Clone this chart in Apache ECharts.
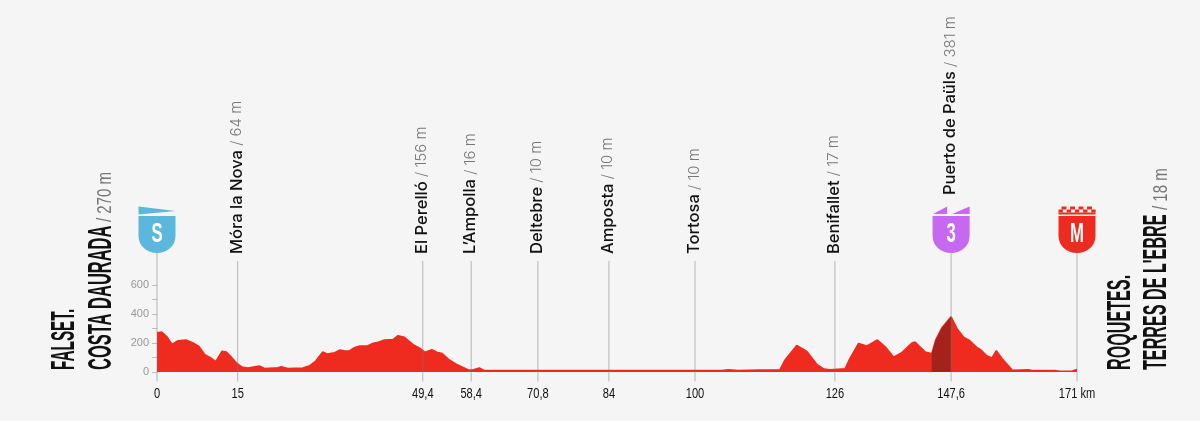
<!DOCTYPE html>
<html><head><meta charset="utf-8">
<style>html,body{margin:0;padding:0;background:#f5f5f5}#c{width:1200px;height:421px}</style>
<script src="https://cdn.jsdelivr.net/npm/echarts@6/dist/echarts.min.js"></script>
</head><body><div id="c"></div>
<script>
const profileKm = [0,0.9,1.9,2.8,3.9,5.4,6.7,7.8,8.9,10,10.9,12.1,12.9,13.8,14.9,15.9,16.9,19,20,22.5,23.1,24.3,27.1,28.4,29.5,30.8,31.6,33,34,34.9,35.8,36.8,37.7,39.1,40.2,41.1,42.3,43.9,44.8,46,47.6,48.9,49.8,51.1,52,53,54.2,55.7,57.3,57.9,58.8,59.9,60.8,70.8,84,100,105,106.2,108,112,115.8,116.7,118.9,120.8,122.7,124,125.1,127.9,128.8,130.4,131.9,133.9,135.5,136.9,138.4,140.3,140.9,142.8,144,144.7,145.9,147.6,148.7,149.9,151,152.3,153.2,154.3,155.2,156,157.1,159,162,162.6,166.9,167.8,170,171];
const profileElev = [270,276,241,191,216,221,200,177,120,97,71,143,138,104,57,32,28,41,25,30,37,25,28,44,76,138,124,133,152,145,147,170,179,179,198,205,221,225,251,239,189,163,136,154,136,127,87,53,25,14,16,28,11,10,10,10,10,15,11,14,16,82,183,142,50,20,16,23,94,197,179,221,168,103,133,200,207,138,126,218,306,381,299,241,218,172,150,110,97,147,92,12,16,10,10,5,6,18];
const climbFromKm = 144, climbToKm = 147.6;
const waypointKm = [15,49.4,58.4,70.8,84,100,126,147.6];
const waypointName = ['Móra la Nova','El Perelló','L’Ampolla','Deltebre','Amposta','Tortosa','Benifallet','Puerto de Paüls'];
const waypointElev = ['64 m','156 m','16 m','10 m','10 m','10 m','17 m','381 m'];
const xTicks = [0,15,49.4,58.4,70.8,84,100,126,147.6,171];
const yTicks = [0,200,400,600];
const startName = ['FALSET.','COSTA DAURADA'], startElev = '270 m', startKm = 0;
const finishName = ['ROQUETES.','TERRES DE L\'EBRE'], finishElev = '18 m', finishKm = 171;
const RED='#ee2b1e', DARK='#a5221a', NARROW='"Liberation Sans"', GREY='rgba(120,120,120,.5)';
const pts = profileKm.map((k,i)=>[k,profileElev[i]]);
const climb = pts.filter(p=>p[0]>=climbFromKm && p[0]<=climbToKm);
const SHIELD='M-18.5,-37 L18.5,-37 L18.5,-17 C18.5,-7 10,0 0,0 C-10,0 -18.5,-7 -18.5,-17 Z';
function shield(color,letter,extra){
  return {type:'group',y:-119,children:[
    {type:'path',shape:{pathData:SHIELD,layout:'cover',x:-18.5,y:-37,width:37,height:37},style:{fill:color}},
    {type:'text',x:0,y:-18,scaleX:.62,style:{text:letter,fill:'#fff',font:'bold 27px '+NARROW,align:'center',verticalAlign:'middle'}}
  ].concat(extra)};
}
function badge(kind){
  if(kind==='S') return shield('#5bb7dc','S',[{type:'polygon',shape:{points:[[-18.5,-46.5],[18.5,-42],[-18.5,-38.5]]},style:{fill:'#5bb7dc'}}]);
  if(kind==='3') return shield('#c768f0','3',[
    {type:'polygon',shape:{points:[[-18,-39],[-4,-46.5],[-4,-39]]},style:{fill:'#c768f0'}},
    {type:'polygon',shape:{points:[[1,-39],[18.5,-46.5],[18.5,-39]]},style:{fill:'#c768f0'}}]);
  const ch=[];
  for(let i=0;i<4;i++) ch.push({type:'rect',shape:{x:-15.5+i*8.5,y:-46.5,width:5,height:3},style:{fill:RED}});
  for(let i=0;i<5;i++) ch.push({type:'rect',shape:{x:-18.5+i*8.2,y:-43.5,width:4.4,height:3},style:{fill:RED}});
  ch.push({type:'rect',shape:{x:-18.5,y:-40.5,width:37,height:2},style:{fill:RED}});
  return shield(RED,'M',ch);
}
function stem(top){return {type:'line',shape:{x1:0,y1:-top,x2:0,y2:9.5},style:{stroke:GREY,lineWidth:1}};}
function vText(main,off,sx){
  return {type:'text',x:off,y:-2,rotation:Math.PI/2,scaleX:sx,style:{text:main,align:'left',verticalAlign:'middle',font:'bold 34px '+NARROW,fill:'#111'}};
}
function vElev(txt,off,up){
  return {type:'text',x:off,y:-up,rotation:Math.PI/2,scaleX:.75,style:{text:'/ '+txt,align:'left',verticalAlign:'middle',font:'20px '+NARROW,fill:'#777'}};
}
const option={
  backgroundColor:'#f5f5f5',animation:false,
  grid:{left:157,right:123,top:285,bottom:49},
  xAxis:{type:'value',min:0,max:171,axisLine:{show:false},splitLine:{show:false},axisTick:{show:false},axisLabel:{show:false}},
  yAxis:{type:'value',min:0,max:600,interval:100,splitLine:{show:false},axisLine:{show:false},
    axisTick:{show:true,length:5,lineStyle:{color:'#bbb'}},
    axisLabel:{margin:8,color:'#999',fontFamily:'"Liberation Sans"',fontSize:11,formatter:v=>yTicks.includes(v)?String(v):''}},
  series:[
    {type:'line',data:pts,symbol:'none',lineStyle:{color:RED,width:1.5},areaStyle:{color:RED,opacity:1},z:2},
    {type:'line',data:climb,symbol:'none',lineStyle:{width:0},areaStyle:{color:DARK,opacity:1},z:3},
    {type:'custom',coordinateSystem:'cartesian2d',z:5,silent:true,
      data:waypointKm.map((k,i)=>[k,0,i]),
      encode:{x:0,y:1},
      renderItem:(p,api)=>{
        const i=api.value(2),c=api.coord([api.value(0),0]);
        const hasBadge=waypointName[i]==='Puerto de Paüls';
        const kids=[stem(hasBadge?119:111)];
        if(hasBadge) kids.push(badge('3'));
        kids.push({type:'text',x:-1,y:hasBadge?-177:-118,rotation:Math.PI/2,style:{
          text:'{n|'+waypointName[i]+'}{e| / '+waypointElev[i]+'}',align:'left',verticalAlign:'middle',
          rich:{n:{font:'500 16.5px Inter',fill:'#111'},e:{font:'300 15px Inter',fill:'#777'}}}});
        return {type:'group',x:c[0],y:c[1],children:kids};
      }},
    {type:'custom',coordinateSystem:'cartesian2d',z:5,silent:true,
      data:[[startKm,0,0],[finishKm,0,1]],encode:{x:0,y:1},
      renderItem:(p,api)=>{
        const f=api.value(2),c=api.coord([api.value(0),0]);
        const kids=f?[stem(119),badge('M'),vText(finishName[0],44,.475),vText(finishName[1],79.5,.475),vElev(finishElev,84.5,162)]
                    :[stem(119),badge('S'),vText(startName[0],-92,.45),vText(startName[1],-55.5,.485),vElev(startElev,-52,150)];
        return {type:'group',x:c[0],y:c[1],children:kids};
      }},
    {type:'custom',coordinateSystem:'cartesian2d',z:5,silent:true,
      data:xTicks.map(k=>[k,0]),encode:{x:0,y:1},
      renderItem:(p,api)=>{
        const v=api.value(0),c=api.coord([v,0]);
        return {type:'text',x:c[0],y:c[1]+22,scaleX:.74,style:{text:v===171?'171 km':String(v).replace('.',','),align:'center',verticalAlign:'middle',font:'15px '+NARROW,fill:'#111'}};
      }}
  ]
};
echarts.init(document.getElementById('c')).setOption(option);
</script></body></html>
